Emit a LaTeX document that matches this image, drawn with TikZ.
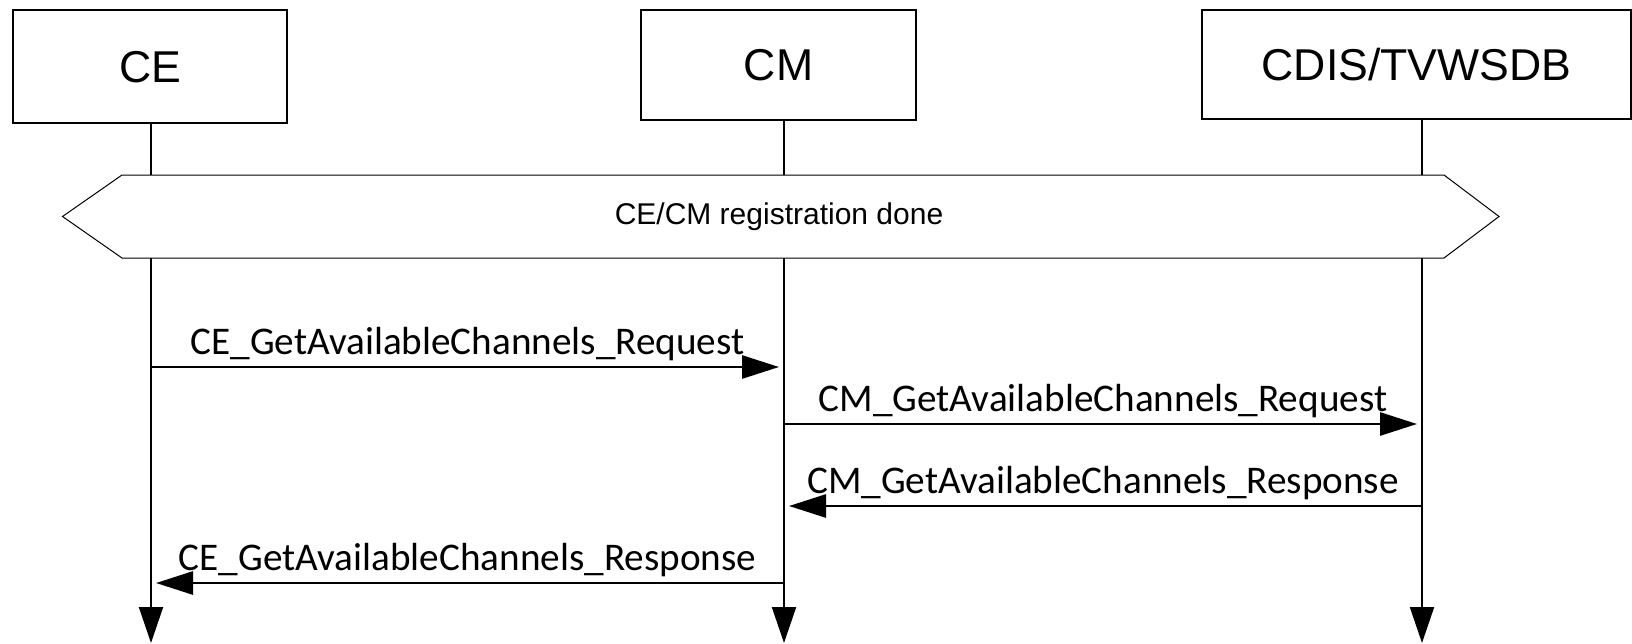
\documentclass[tikz,border=0pt]{standalone}
\usepackage{fontspec}
\setmainfont{Liberation Sans}
\newfontfamily\msgfont{Carlito}
\usetikzlibrary{positioning,arrows.meta}

\begin{document}
\begin{tikzpicture}[x=0.5pt,y=-0.5pt] % 1 unit = 1 px of the reference
            \tikzstyle{entity} = [rectangle, draw=black, line width=1pt, fill=white, inner sep=0pt, font=\fontsize{22.3}{26}\selectfont]
            \tikzstyle{life} = [line width=1pt, -{Triangle[length=18pt,width=12pt]}]
            \tikzstyle{msg} = [line width=1.4pt, -{Triangle[length=18.5pt,width=11.5pt]}, shorten >=2.5pt]
            \tikzstyle{msglabel} = [above, inner sep=2.5pt, font=\msgfont\fontsize{19.6}{22}\selectfont]
            \tikzstyle{state} = [draw=black, line width=0.5pt, fill=white]

            \useasboundingbox (0,0) rectangle (1632,643);

            % Nodes
            \node (ce) [entity, minimum width=137.2pt, minimum height=56.3pt] at (150,66.7) {CE};
            \node (cm) [entity, minimum width=137.5pt, minimum height=55pt] at (778.5,65.2) {CM};
            \node (cdis) [entity, minimum width=214.5pt, minimum height=54.5pt] at (1416.5,64.5) {CDIS/TVWSDB};

            % Lifelines
            \coordinate (ceEnd) at (151,643);
            \coordinate (cmEnd) at (784,643);
            \coordinate (cdisEnd) at (1422,643);
            \draw [life] (ce.south -| ceEnd) -- (ceEnd);
            \draw [life] (cm.south -| cmEnd) -- (cmEnd);
            \draw [life] (cdis.south -| cdisEnd) -- (cdisEnd);

            % Registration state
            \draw [state] (62.5,216.5) -- (122,175) -- (1444,175) -- (1499,216.5) -- (1444,258) -- (122,258) -- cycle;
            \node (reg) [font=\fontsize{15}{18}\selectfont] at (779,217) {CE/CM registration done};

            % Messages
            \coordinate (ce1) at (151,367);   \coordinate (cm1) at (784,367);
            \coordinate (cm2) at (784,424);   \coordinate (cdis2) at (1422,424);
            \coordinate (cdis3) at (1422,506); \coordinate (cm3) at (784,506);
            \coordinate (cm4) at (784,583);   \coordinate (ce4) at (151,583);

            % Arrows
            \draw [msg] (ce1) -- node[msglabel] {CE\_GetAvailableChannels\_Request} (cm1);
            \draw [msg] (cm2) -- node[msglabel] {CM\_GetAvailableChannels\_Request} (cdis2);
            \draw [msg] (cdis3) -- node[msglabel] {CM\_GetAvailableChannels\_Response} (cm3);
            \draw [msg] (cm4) -- node[msglabel] {CE\_GetAvailableChannels\_Response} (ce4);
\end{tikzpicture}
\end{document}
